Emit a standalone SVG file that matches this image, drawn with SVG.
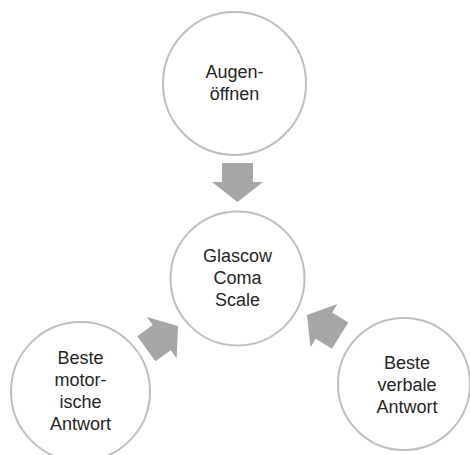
<svg xmlns="http://www.w3.org/2000/svg" width="470" height="455" viewBox="0 0 470 455">
<defs>
<style>
.node circle{fill:#ffffff;stroke:#bfbfbf;stroke-width:2}
.node text{font-family:"Liberation Sans",Arial,sans-serif;font-size:18px;fill:#262626;text-anchor:middle}
.arrow{fill:#a6a6a6}
</style>
<polygon id="arr" points="-39,-15.5 -20,-15.5 -20,-25.5 0,0 -20,25.5 -20,15.5 -39,15.5"/>
</defs>
<rect width="470" height="455" fill="#ffffff"/>
<g id="connectors">
<use href="#arr" class="arrow" transform="translate(237.5,202) rotate(90)"/>
<use href="#arr" class="arrow" transform="translate(178,326) rotate(-35.7)"/>
<use href="#arr" class="arrow" transform="translate(307,315) rotate(212)"/>
</g>
<g id="augen" class="node">
<circle cx="234.5" cy="83.5" r="71.5"/>
<text x="234.5" y="78">Augen-</text>
<text x="234.5" y="100">öffnen</text>
</g>
<g id="gcs" class="node">
<circle cx="237.5" cy="278.5" r="67"/>
<text x="237.5" y="262">Glascow</text>
<text x="237.5" y="284">Coma</text>
<text x="237.5" y="306">Scale</text>
</g>
<g id="motor" class="node">
<circle cx="80.5" cy="391.5" r="69.5"/>
<text x="80.5" y="364">Beste</text>
<text x="80.5" y="386">motor-</text>
<text x="80.5" y="408">ische</text>
<text x="80.5" y="430">Antwort</text>
</g>
<g id="verbal" class="node">
<circle cx="404" cy="384" r="66"/>
<text x="407" y="369">Beste</text>
<text x="407" y="391">verbale</text>
<text x="407" y="413">Antwort</text>
</g>
</svg>
